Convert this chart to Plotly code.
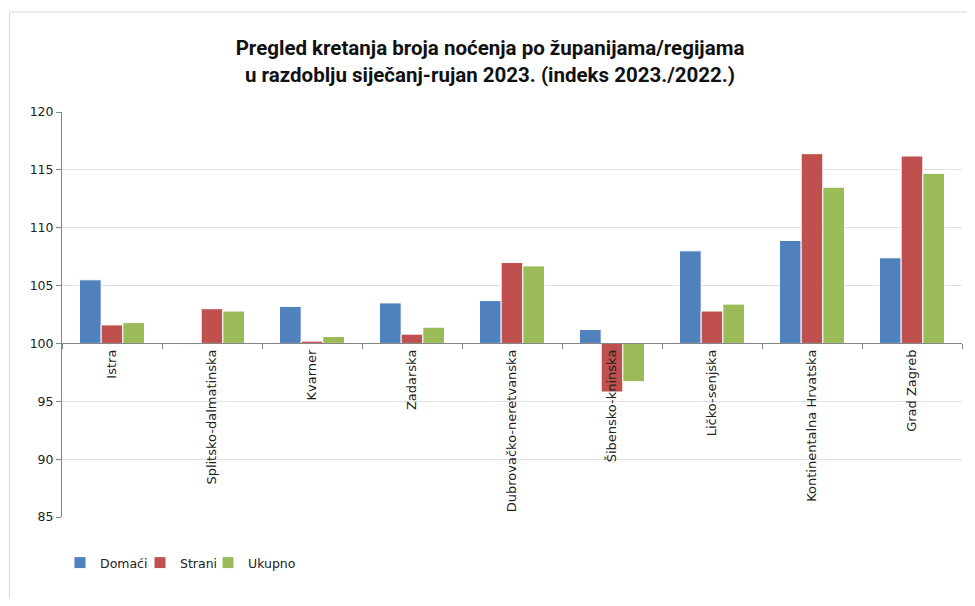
import plotly.graph_objects as go

categories = ["Istra", "Splitsko-dalmatinska", "Kvarner", "Zadarska",
              "Dubrovačko-neretvanska", "Šibensko-kninska", "Ličko-senjska",
              "Kontinentalna Hrvatska", "Grad Zagreb"]
domaci = [105.5, 99.9, 103.2, 103.5, 103.7, 101.2, 108.0, 108.9, 107.4]
strani = [101.6, 103.0, 100.2, 100.8, 107.0, 95.8, 102.8, 116.4, 116.2]
ukupno = [101.8, 102.8, 100.6, 101.4, 106.7, 96.7, 103.4, 113.5, 114.7]
series_names = ["Domaći", "Strani", "Ukupno"]
colors = ["#4F81BD", "#C0504D", "#9BBB59"]
BASE = 100
Y_MIN, Y_MAX = 85, 120

FONT = "DejaVu Sans, Verdana, sans-serif"
TITLE_FONT = "Liberation Sans Narrow, Arial Narrow, Roboto, sans-serif"

# page offset: the browser's default 8px body margin
OFF = 8
W, H = 975 - 2 * OFF, 606 - 2 * OFF
L, T = 62 - OFF, 112 - OFF
pw, ph = 900, 405
R = W - L - pw
B = H - T - ph

legend_widths = [35, 23, None]

fig = go.Figure()
for name, vals, col, lw in zip(series_names, [domaci, strani, ukupno], colors, legend_widths):
    fig.add_trace(go.Bar(
        x=categories, y=[v - BASE for v in vals], base=BASE, name=name,
        marker=dict(color=col, line=dict(color="white", width=1)),
        customdata=vals, hovertemplate="%{x}<br>" + name + ": %{customdata}<extra></extra>",
        legendwidth=lw,
    ))


def px_x(page_x):
    return (page_x - OFF - L) / pw


def px_y(page_y):
    return (T + ph - (page_y - OFF)) / ph


fig.update_layout(
    width=W, height=H,
    margin=dict(l=L, r=R, t=T, b=B, pad=0),
    paper_bgcolor="white", plot_bgcolor="white",
    barmode="group", bargap=0.35, bargroupgap=0.0,
    font=dict(family=FONT, size=12.5, color="#222222"),
    title=dict(
        text="<b>Pregled kretanja broja noćenja po županijama/regijama<br>u razdoblju siječanj-rujan 2023. (indeks 2023./2022.)</b>",
        font=dict(family=TITLE_FONT, size=20.5, color="#111111"),
        xref="container", yref="container", x=(490 - OFF) / W, y=1 - 47 / H,
        xanchor="center", yanchor="middle",
    ),
    xaxis=dict(
        type="category", anchor="free", position=(BASE - Y_MIN) / (Y_MAX - Y_MIN),
        tickangle=-90, tickson="boundaries", ticks="outside", ticklen=5,
        tickcolor="#868686", showline=True, linecolor="#868686", linewidth=1,
        showgrid=False, tickfont=dict(family=FONT, size=13, color="#222222"),
    ),
    yaxis=dict(
        range=[Y_MIN, Y_MAX], dtick=5, tick0=85, showgrid=True, gridcolor="#e0e0e0",
        showline=True, linecolor="#868686", linewidth=1, ticks="outside", ticklen=5,
        tickcolor="#868686", zeroline=False, tickfont=dict(family=FONT, size=12.5, color="#222222"),
    ),
    legend=dict(orientation="h", x=px_x(60), y=px_y(563),
                xanchor="left", yanchor="middle", font=dict(family=FONT, size=12.5),
                itemwidth=30, tracegroupgap=0, bgcolor="rgba(0,0,0,0)", borderwidth=0),
    showlegend=True,
    shapes=[dict(type="rect", xref="paper", yref="paper",
                 x0=px_x(9.5), x1=px_x(1000),
                 y0=px_y(640), y1=px_y(12),
                 line=dict(color="#d9d9d9", width=1), layer="below")],
)

fig.write_html("out.html")
